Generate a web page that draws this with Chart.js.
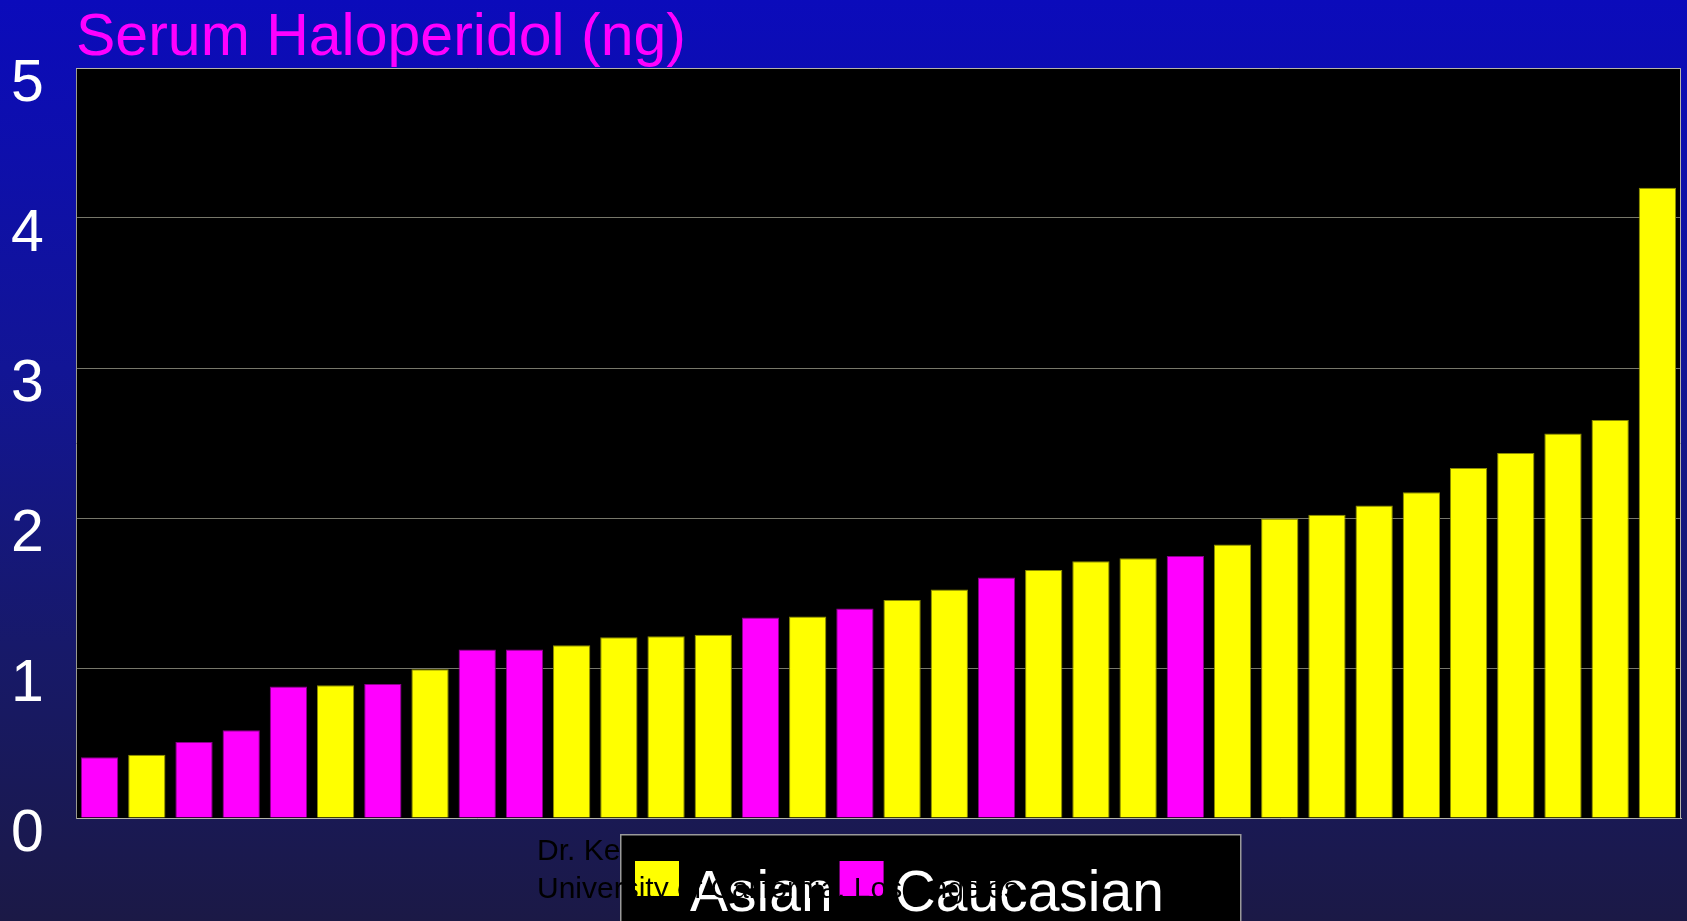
<!DOCTYPE html>
<html>
<head>
<meta charset="utf-8">
<script src="https://cdn.jsdelivr.net/npm/chart.js@4"></script>
<style>
  html, body { margin: 0; padding: 0; }
  body {
    width: 1687px; height: 921px; overflow: hidden;
    background: linear-gradient(to bottom, #0b0bbb 0%, #121595 40%, #17196a 70%, #1b1946 100%);
  }
  canvas { display: block; }
</style>
</head>
<body>
<canvas id="haloChart" width="1687" height="921"></canvas>
<script>
// serum haloperidol per subject, sorted ascending
var subjects = ['1','2','3','4','5','6','7','8','9','10','11','12','13','14','15','16','17',
                '18','19','20','21','22','23','24','25','26','27','28','29','30','31','32','33','34'];
var serumValues = [0.405, 0.422, 0.507, 0.585, 0.876, 0.885, 0.893, 0.991, 1.124, 1.124, 1.151,
                   1.205, 1.211, 1.222, 1.336, 1.344, 1.396, 1.453, 1.524, 1.604, 1.653, 1.711,
                   1.731, 1.747, 1.824, 1.996, 2.022, 2.084, 2.171, 2.333, 2.433, 2.564, 2.653, 4.202];
var groups = ['C','A','C','C','C','A','C','A','C','C','A','A','A','A','C','A','C',
              'A','A','C','A','A','A','C','A','A','A','A','A','A','A','A','A','A'];
var seriesNames = ['Asian', 'Caucasian'];
var yTicks = [0, 1, 2, 3, 4, 5];
var titleText = 'Serum Haloperidol (ng)';
var creditLines = ['Dr. Keh-Ming Lin', 'University of California, Los Angeles'];

var asianData = serumValues.map(function (v, i) { return groups[i] === 'A' ? v : null; });
var caucasianData = serumValues.map(function (v, i) { return groups[i] === 'C' ? v : null; });

var FONT = "'Liberation Sans', Arial, sans-serif";

// black plot area + border, title, legend box and credit text
var decor = {
    id: 'decor',
    beforeDraw: function (chart) {
        var ctx = chart.ctx, a = chart.chartArea;
        ctx.save();
        ctx.fillStyle = '#000000';
        ctx.fillRect(a.left, a.top, a.right - a.left, a.bottom - a.top);
        ctx.restore();
    },
    afterDraw: function (chart) {
        var ctx = chart.ctx, a = chart.chartArea;
        ctx.save();
        // top / right frame
        ctx.strokeStyle = '#b4b4a8';
        ctx.lineWidth = 1;
        ctx.beginPath();
        ctx.moveTo(a.left, a.top + 0.5);
        ctx.lineTo(a.right - 0.5, a.top + 0.5);
        ctx.lineTo(a.right - 0.5, a.bottom);
        ctx.stroke();

        // title
        ctx.fillStyle = '#ff00ff';
        ctx.font = '59px ' + FONT;
        ctx.textBaseline = 'alphabetic';
        ctx.textAlign = 'left';
        ctx.fillText(titleText, 76, 55);

        // legend
        var lx = 620, ly = 834;
        ctx.fillStyle = '#000000';
        ctx.fillRect(lx, ly, 620, 100);
        ctx.strokeStyle = '#9a9a9a';
        ctx.lineWidth = 1.5;
        ctx.strokeRect(lx + 0.75, ly + 0.75, 620, 100);
        ctx.font = '57px ' + FONT;
        var x = lx + 15;
        chart.data.datasets.forEach(function (ds) {
            ctx.fillStyle = ds.backgroundColor;
            ctx.fillRect(x, 861, 44, 35);
            ctx.fillStyle = '#ffffff';
            ctx.fillText(ds.label, x + 55, 911);
            x = x + 55 + ctx.measureText(ds.label).width + 7;
        });

        // credit text (sits over the legend)
        ctx.fillStyle = '#000000';
        ctx.font = '30px ' + FONT;
        ctx.fillText(creditLines[0], 537, 860);
        ctx.fillText(creditLines[1], 537, 898);
        ctx.restore();
    }
};

var ctx = document.getElementById('haloChart').getContext('2d');
var haloChart = new Chart(ctx, {
    type: 'bar',
    data: {
        labels: subjects,
        datasets: [{
            label: seriesNames[0],
            data: asianData,
            backgroundColor: '#ffff00',
            borderColor: '#8c8c00',
            borderWidth: 1,
            barPercentage: 0.79,
            categoryPercentage: 1.0
        }, {
            label: seriesNames[1],
            data: caucasianData,
            backgroundColor: '#ff00ff',
            borderColor: '#8c008c',
            borderWidth: 1,
            barPercentage: 0.79,
            categoryPercentage: 1.0
        }]
    },
    options: {
        responsive: false,
        devicePixelRatio: 1,
        animation: false,
        layout: { padding: { left: 11, right: 6, top: 68, bottom: 103 } },
        plugins: {
            legend: { display: false },
            title: { display: false },
            tooltip: { enabled: false }
        },
        scales: {
            x: {
                stacked: true,
                grid: { display: false },
                border: { display: true, color: '#b4b4a8', width: 1 },
                ticks: { display: false },
                afterFit: function (scale) { scale.height = 0; }
            },
            y: {
                stacked: true,
                min: 0,
                max: 5,
                afterBuildTicks: function (scale) {
                    scale.ticks = yTicks.map(function (v) { return { value: v }; });
                },
                grid: { color: '#77776a', lineWidth: 1, drawTicks: false },
                border: { display: true, color: '#9a9a90', width: 1 },
                ticks: {
                    color: '#ffffff',
                    font: { family: FONT, size: 59 },
                    padding: 0,
                    crossAlign: 'far',
                    labelOffset: 17
                },
                afterFit: function (scale) { scale.width = 65; }
            }
        }
    },
    plugins: [decor]
});
</script>
</body>
</html>
